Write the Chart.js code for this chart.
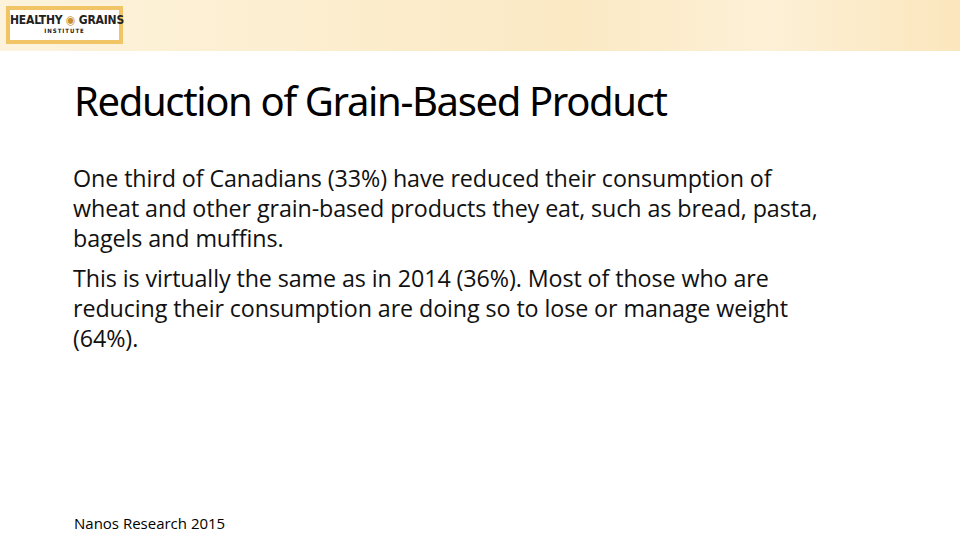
<!DOCTYPE html>
<html><head><meta charset="utf-8">
<script src="https://cdn.jsdelivr.net/npm/chart.js@4"></script>
<style>
html,body{margin:0;padding:0;width:960px;height:540px;overflow:hidden;background:#fff;font-family:"Open Sans","Noto Sans",sans-serif;}
#band{position:absolute;left:0;top:0;width:960px;height:51px;background:linear-gradient(90deg,#fdf3dc 0%,#fbe9c4 60%,#fdf0d6 80%,#fbe6bd 100%);}
#logo{position:absolute;left:6px;top:6px;width:117px;height:38px;background:#f1c466;}
#logoin{position:absolute;left:4px;top:4px;right:4px;bottom:4px;background:#fff;text-align:center;font-family:"Liberation Sans Narrow","DejaVu Sans Condensed",sans-serif;font-weight:bold;color:#222;white-space:nowrap;}
#l1{font-size:12px;line-height:14px;margin-top:3px;letter-spacing:-0.2px}
#l1 span{color:#c9912e}
#l2{font-size:6px;line-height:8px;letter-spacing:1px}
#title{position:absolute;left:74px;top:73px;font-size:40px;color:#000;letter-spacing:-1.35px;font-family:"Noto Sans",sans-serif;white-space:nowrap;}
#body{position:absolute;left:73px;top:163px;font-size:23.3px;line-height:30px;color:#111;letter-spacing:-0.1px;white-space:nowrap;}
#body p{margin:0 0 10px 0}
#src{position:absolute;left:74px;top:513px;font-size:15px;color:#000;}
#c{position:absolute;left:0;top:0;pointer-events:none}
</style></head><body>
<div id="band"></div>
<div id="logo"><div id="logoin"><div id="l1">HEALTHY <span>&#9673;</span> GRAINS</div><div id="l2">INSTITUTE</div></div></div>
<div id="title">Reduction of Grain-Based Product</div>
<div id="body"><p>One third of Canadians (33%) have reduced their consumption of<br>wheat and other grain-based products they eat, such as bread, pasta,<br>bagels and muffins.</p><p>This is virtually the same as in 2014 (36%). Most of those who are<br>reducing their consumption are doing so to lose or manage weight<br>(64%).</p></div>
<div id="src">Nanos Research 2015</div>
<canvas id="c" width="960" height="540"></canvas>
<script>
const categories = [];
const values = [];
new Chart(document.getElementById('c'), {
  type: 'bar',
  data: { labels: categories, datasets: [{ data: values }] },
  options: { responsive:false, animation:false, plugins:{legend:{display:false},tooltip:{enabled:false}},
    scales:{x:{display:false},y:{display:false}} }
});
</script>
</body></html>
